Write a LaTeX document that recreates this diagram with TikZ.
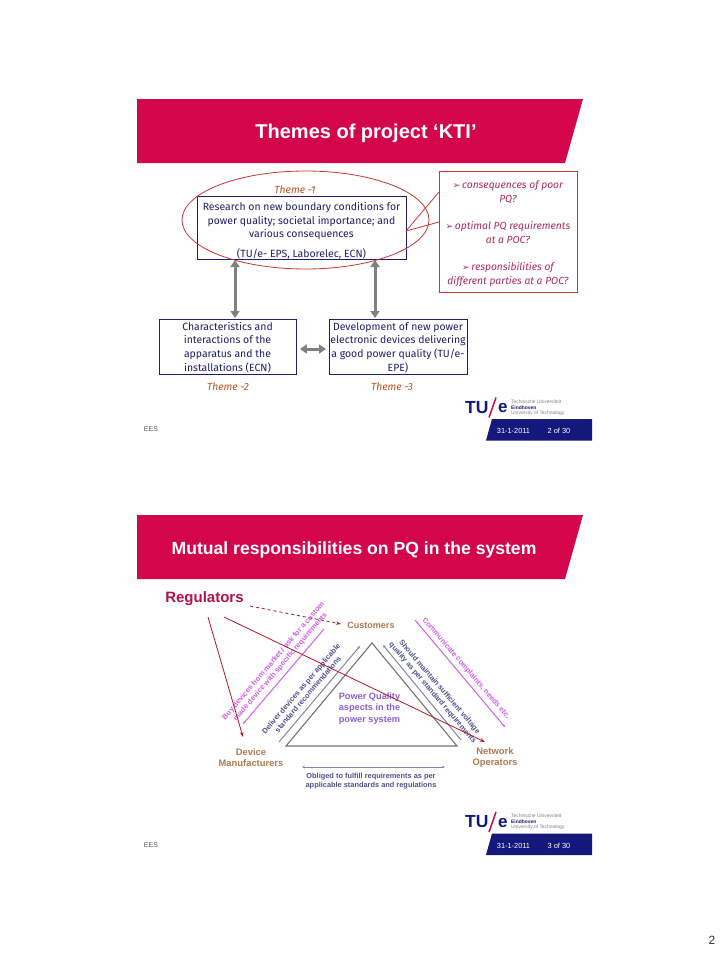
\documentclass[tikz,border=0pt]{standalone}
\usepackage{fontspec}
\setmainfont{Fira Sans}
\setsansfont{Liberation Sans}
\newfontfamily\arrowfont{DejaVu Sans}
\usetikzlibrary{arrows.meta,shapes.geometric}
\definecolor{banner}{HTML}{D3064C}
\definecolor{navy}{HTML}{1E1E6A}
\definecolor{logonavy}{HTML}{14187A}
\definecolor{themecol}{HTML}{C2501E}
\definecolor{qcol}{HTML}{B02A60}
\definecolor{regcol}{HTML}{B3124F}
\definecolor{redline}{HTML}{C23A35}
\definecolor{arrowred}{HTML}{B01828}
\definecolor{tan}{HTML}{B07A50}
\definecolor{magtext}{HTML}{D060E8}
\definecolor{bluetext}{HTML}{50508F}
\definecolor{purptext}{HTML}{8A60D8}
\newcommand{\bul}{{\arrowfont\normalfont\fontsize{9}{9}\selectfont\arrowfont ➢}}
\tikzset{
  bannerfill/.style={fill=banner,draw=none},
  bannertitle/.style={text=white,font=\sffamily\bfseries\fontsize{17.6}{20}\selectfont,inner sep=0},
  bodybox/.style={draw=navy,line width=0.9pt,text=navy,align=center,inner sep=0,font=\fontsize{10.45}{13.6}\selectfont,anchor=center},
  themelabel/.style={text=themecol,font=\itshape\fontsize{10.3}{12}\selectfont,inner sep=0},
  qbox/.style={draw=redline,line width=0.9pt,text=qcol,align=center,inner sep=0,font=\itshape\fontsize{10.3}{13.9}\selectfont,minimum width=138pt,minimum height=121pt},
  redlink/.style={draw=redline,line width=0.8pt},
  grayarrow/.style={draw=black!50,line width=3pt,{Triangle[width=9pt,length=7pt]}-{Triangle[width=9pt,length=7pt]}},
  logotu/.style={inner sep=0,text=logonavy,font=\sffamily\bfseries\fontsize{17.5}{20}\selectfont},
  logosmall/.style={inner sep=0,anchor=west,text=gray,font=\sffamily\fontsize{4.9}{5}\selectfont},
  datetxt/.style={inner sep=0,text=white,font=\sffamily\fontsize{7.4}{8}\selectfont},
  eestxt/.style={inner sep=0,text=black!65,font=\sffamily\fontsize{7}{8}\selectfont},
  actor/.style={inner sep=0,text=tan,align=center,font=\sffamily\bfseries\fontsize{9.4}{11.3}\selectfont},
  magrot/.style={inner sep=0,text=magtext,align=center,font=\sffamily\bfseries\fontsize{7.4}{9}\selectfont},
  bluerot/.style={inner sep=0,text=bluetext,align=center,font=\sffamily\bfseries\fontsize{7.4}{9}\selectfont},
  regarrow/.style={draw=arrowred,line width=0.8pt,-{Stealth[length=5pt,width=3.5pt]}},
  logoarea/.pic={
    \node[logotu,anchor=west] (tu) at (0,0) {TU};
    \node[logotu,anchor=west,font=\sffamily\bfseries\fontsize{17}{18}\selectfont] (e) at (33,1) {e};
    \draw[banner,line width=1.5pt] (24,10) -- (31,-10);
    \node[logosmall] at (46,-6) {Technische Universiteit};
    \node[logosmall,text=logonavy,font=\sffamily\bfseries\fontsize{4.9}{5}\selectfont] at (46,0) {Eindhoven};
    \node[logosmall] at (46,5.5) {University of Technology};
    \fill[logonavy] (27,11.5) -- (127,11.5) -- (127,33) -- (21,33) -- cycle;
  }
}
\begin{document}
\begin{tikzpicture}[x=1pt,y=-1pt]
\useasboundingbox (0,0) rectangle (728,956);
\fill[white] (0,0) rectangle (728,956);

% ---------- slide 1 ----------
\fill[bannerfill] (137,99) -- (583,99) -- (565,163) -- (137,163) -- cycle;
\node[bannertitle,font=\sffamily\bfseries\fontsize{20}{22}\selectfont] (t1) at (366,133.5) {Themes of project ‘KTI’};

\node[themelabel] (th1) at (295,190) {Theme -1};
\node[bodybox,minimum width=209pt,minimum height=62pt] (b1) at (301.5,228) {\rule{0pt}{14pt}Research on new boundary conditions for\\power quality; societal importance; and\\various consequences\\[6.5pt](TU/e- EPS, Laborelec, ECN)};
\node[draw=redline,line width=0.8pt,ellipse,inner sep=0,minimum width=247pt,minimum height=98pt] (el) at (305.5,220) {};

\node[qbox] (q) at (508,231.5) {\rule{0pt}{12pt}\bul\,consequences of poor\\PQ?\\[13.2pt]\bul\,optimal PQ requirements\\at a POC?\\[13.2pt]\bul\,responsibilities of\\different parties at a POC?};
\coordinate (qa) at (439,192);
\coordinate (qb) at (439,222);
\coordinate (qs) at (406,231);
\draw[redlink] (qs) -- (qa);
\draw[redlink] (qs) -- (qb);

\node[bodybox,minimum width=137pt,minimum height=55pt] (b2) at (227.5,346.5) {\rule{0pt}{10pt}Characteristics and\\interactions of the\\apparatus and the\\installations (ECN)};
\node[bodybox,minimum width=138pt,minimum height=55pt] (b3) at (398,346.5) {\rule{0pt}{10pt}Development of new power\\electronic devices delivering\\a good power quality (TU/e-\\EPE)};
\node[themelabel] (th2) at (228,387) {Theme -2};
\node[themelabel] (th3) at (392,387) {Theme -3};

\draw[grayarrow] (235,260) -- (235,318);
\draw[grayarrow] (375,260) -- (375,318);
\draw[grayarrow] (b2.east |- 0,349) ++(3.5,0) -- (326,349);

\pic at (465,407.5) {logoarea};
\node[datetxt] (d1) at (513.5,431) {31-1-2011};
\node[datetxt] (p1) at (559,431) {2 of 30};
\node[eestxt] (e1) at (151,429) {EES};

% ---------- slide 2 ----------
\fill[bannerfill] (137,515) -- (583,515) -- (565,579) -- (137,579) -- cycle;
\node[bannertitle] (t2) at (354,550) {Mutual responsibilities on PQ in the system};
\node[inner sep=0,text=regcol,font=\sffamily\bfseries\fontsize{15}{17}\selectfont] (reg) at (204.5,599) {Regulators};

% triangle
\coordinate (ta) at (372,643);
\coordinate (tl) at (286,746);
\coordinate (tr) at (457,746);
\draw[draw=black!55,line width=1.1pt,line join=miter] (ta) -- (tr) -- (tl) -- cycle;
\node[inner sep=0,text=purptext,align=center,font=\sffamily\bfseries\fontsize{9.2}{11.5}\selectfont] (pq) at (369.5,708.5) {Power Quality\\aspects in the\\power system};

\node[actor,font=\sffamily\bfseries\fontsize{9}{11}\selectfont] (cust) at (371,625) {Customers};
\node[actor] (dev) at (251,757.5) {Device\\Manufacturers};
\node[actor] (net) at (495,757.5) {Network\\Operators};

% side lines
\coordinate (m1a) at (243,724);
\coordinate (m1b) at (324,629);
\draw[draw=magtext,line width=1pt,-{Stealth[length=3pt,width=2.5pt]}] (m1b) -- (m1a);
\coordinate (b1a) at (279,742);
\coordinate (b1b) at (360,646);
\draw[draw=bluetext!70,line width=1pt,-{Stealth[length=3pt,width=2.5pt]}] (b1a) -- (b1b);
\coordinate (b2a) at (383,645);
\coordinate (b2b) at (461,740);
\draw[draw=bluetext!70,line width=1pt,-{Stealth[length=3pt,width=2.5pt]}] (b2b) -- (b2a);
\coordinate (m2a) at (415,620);
\coordinate (m2b) at (505,727);
\draw[draw=magtext,line width=1pt,-{Stealth[length=3pt,width=2.5pt]}] (m2a) -- (m2b);
\coordinate (ba) at (302,767);
\coordinate (bb) at (445,767);
\draw[draw=bluetext!70,line width=0.9pt,{Stealth[length=3pt,width=2.5pt]}-{Stealth[length=3pt,width=2.5pt]}] (ba) -- (bb);

% rotated labels
\node[magrot,rotate=49.5] (l1) at (277,664) {Buy devices from market / ask for a custom\\made device with specific requirements};
\node[bluerot,rotate=49.5] (l2) at (304.5,691.5) {Deliver devices as per applicable\\standard recommendations};
\node[bluerot,rotate=-49.5] (l3) at (436,690) {Should maintain sufficient voltage\\quality as per standard requirements};
\node[magrot,rotate=-49.5] (l4) at (466,668.5) {Communicate complaints, needs etc.};
\node[inner sep=0,text=bluetext,align=center,font=\sffamily\bfseries\fontsize{7.4}{9}\selectfont] (l5) at (371,781.5) {Obliged to fulfill requirements as per\\applicable standards and regulations};

% regulators' arrows
\coordinate (r0) at (250,606);
\coordinate (r1) at (208,617);
\coordinate (r2) at (224,617);
\coordinate (h0) at (341,624);
\coordinate (h1) at (243,737);
\coordinate (h2) at (485,742);
\draw[regarrow,dashed] (r0) -- (h0);
\draw[regarrow] (r1) -- (h1);
\draw[regarrow] (r2) -- (h2);

\pic at (465,822) {logoarea};
\node[datetxt] (d2) at (513.5,846) {31-1-2011};
\node[datetxt] (p2) at (559,846) {3 of 30};
\node[eestxt] (e2) at (151,845) {EES};

\node[inner sep=0,text=black!80,font=\sffamily\fontsize{12}{14}\selectfont] (pg) at (712,940) {2};
\end{tikzpicture}
\end{document}
